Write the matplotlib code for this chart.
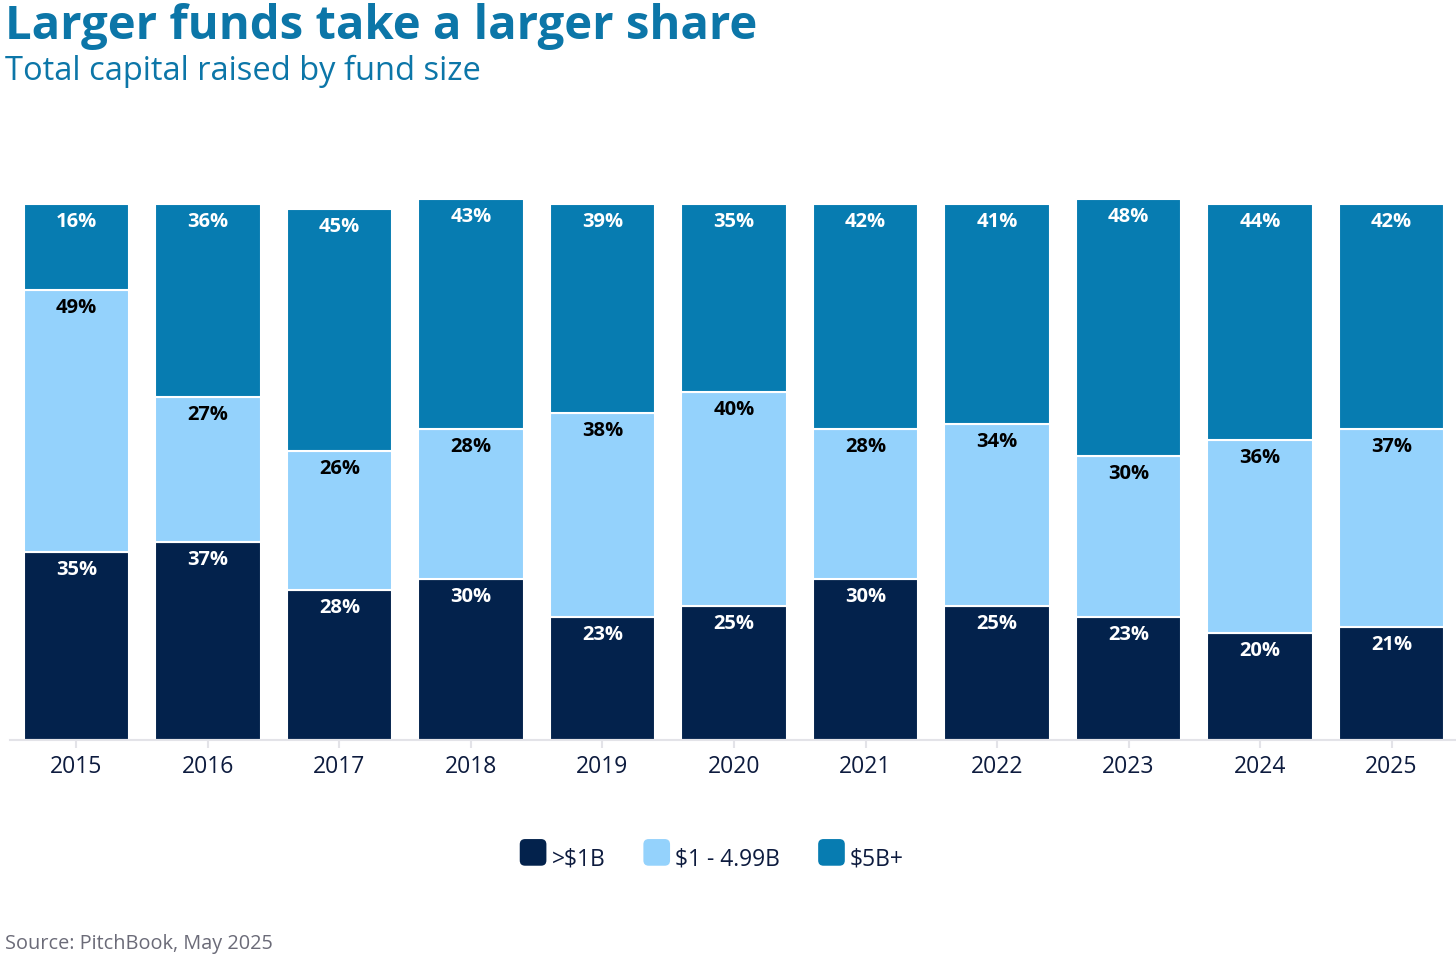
import numpy as np
import matplotlib.pyplot as plt
from matplotlib.patches import FancyBboxPatch
from matplotlib.legend_handler import HandlerPatch

plt.rcParams['font.family'] = ['Open Sans', 'DejaVu Sans']

years = ['2015', '2016', '2017', '2018', '2019', '2020', '2021', '2022', '2023', '2024', '2025']
small = [35, 37, 28, 30, 23, 25, 30, 25, 23, 20, 21]
mid = [49, 27, 26, 28, 38, 40, 28, 34, 30, 36, 37]
large = [16, 36, 45, 43, 39, 35, 42, 41, 48, 44, 42]
series_names = ['>$1B', '$1 - 4.99B', '$5B+']
colors = ['#03224c', '#94d2fc', '#077cb1']
label_colors = ['white', 'black', 'white']

fig = plt.figure(figsize=(14.56, 9.6), dpi=100)
ax = fig.add_axes([10 / 1456, 1 - 740 / 960, 1446 / 1456, (740 - 193.3) / 960])

x = np.arange(len(years))
bottom = np.zeros(len(years))
for vals, name, col, lc in zip([small, mid, large], series_names, colors, label_colors):
    vals = np.array(vals)
    ax.bar(x, vals, bottom=bottom, width=0.8, color=col, edgecolor='white',
           linewidth=1.5, label=name)
    for xi, b, v in zip(x, bottom, vals):
        ax.annotate(f'{v}%', (xi, b + v), xytext=(0, -18), textcoords='offset pixels',
                    ha='center', va='center', fontsize=14.5, fontweight='bold', color=lc)
    bottom += vals

ax.set_xlim(-0.505, 10.49)
ax.set_ylim(0, 102)
ax.set_xticks(x)
ax.set_xticklabels(years, fontsize=16.5, color='#0d1b3e')
ax.set_yticks([])
for s in ['top', 'right', 'left']:
    ax.spines[s].set_visible(False)
ax.spines['bottom'].set_color('#e3e3e8')
ax.spines['bottom'].set_linewidth(1.5)
ax.tick_params(axis='x', length=6, width=1.5, color='#e3e3e8', pad=5)

fig.text(5 / 1456, 1 - 27 / 960, 'Larger funds take a larger share', fontsize=34,
         fontweight='bold', color='#0c76a8', va='center', ha='left')
fig.text(5 / 1456, 1 - 71 / 960, 'Total capital raised by fund size', fontsize=23.5,
         color='#0c76a8', va='center', ha='left')
fig.text(5 / 1456, 1 - 944 / 960, 'Source: PitchBook, May 2025', fontsize=14.3,
         color='#6b6b78', va='center', ha='left')


class RoundHandler(HandlerPatch):
    def create_artists(self, legend, orig_handle, xdescent, ydescent, width, height, fontsize, trans):
        size = height * 1.3
        p = FancyBboxPatch((xdescent + (width - size) / 2, ydescent + (height - size) / 2), size, size,
                           boxstyle='round,pad=0,rounding_size=%f' % (size * 0.2),
                           facecolor=orig_handle.get_facecolor(), edgecolor='none', transform=trans)
        return [p]


proxies = [plt.Rectangle((0, 0), 1, 1, facecolor=c) for c in colors]
leg = fig.legend(proxies, series_names, loc='center', bbox_to_anchor=(711 / 1456, 1 - 859 / 960),
                 ncol=3, frameon=False, fontsize=16.5, handlelength=1.3, handleheight=1.0,
                 handletextpad=0.15, columnspacing=1.6,
                 handler_map={plt.Rectangle: RoundHandler()})
for t in leg.get_texts():
    t.set_color('#0d1b3e')

fig.savefig('out.png', dpi=100)
